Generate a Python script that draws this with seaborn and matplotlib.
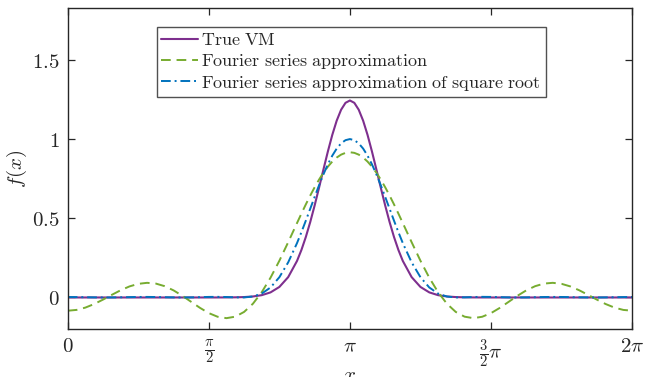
import numpy as np
import pandas as pd
import matplotlib
matplotlib.use("Agg")
import matplotlib.pyplot as plt
import seaborn as sns

# sample positions in units of pi/64 (finer sampling around the peak)
x_units = list(range(0, 52, 2)) + list(range(52, 77)) + list(range(78, 129, 2))
x_vals = np.array(x_units) * np.pi / 64

true_vm = [0.0, 0.0, 0.0, 0.0, 0.0, 0.0, 0.0, 0.0, 0.0, 0.0, 0.0, 0.0, 0.0, 0.0, 0.0, 0.0, 0.0,
           0.0001, 0.0004, 0.0010, 0.0026, 0.0063, 0.0146, 0.0322, 0.0665, 0.1286,
           0.2308, 0.3001, 0.3823, 0.4766, 0.5816, 0.6939, 0.8094, 0.9226, 1.0274, 1.1173,
           1.1864, 1.2301, 1.245, 1.2301, 1.1864, 1.1173, 1.0274, 0.9226, 0.8094, 0.6939,
           0.5816, 0.4766, 0.3823, 0.3001, 0.2308,
           0.1286, 0.0665, 0.0322, 0.0146, 0.0063, 0.0026, 0.0010, 0.0004, 0.0001,
           0.0, 0.0, 0.0, 0.0, 0.0, 0.0, 0.0, 0.0, 0.0, 0.0, 0.0, 0.0, 0.0, 0.0, 0.0, 0.0, 0.0]

fourier = [-0.0837, -0.0786, -0.0640, -0.0414, -0.0135, 0.0167, 0.0456, 0.0698, 0.0862,
           0.0926, 0.0877, 0.0713, 0.0449, 0.0107, -0.0276, -0.0657, -0.0988, -0.1219,
           -0.1307, -0.1213, -0.0913, -0.0396, 0.0332, 0.1251, 0.2321, 0.3492,
           0.4701, 0.5300, 0.5882, 0.6440, 0.6966, 0.7450, 0.7886, 0.8268, 0.8588, 0.8843,
           0.9028, 0.9140, 0.9178, 0.9140, 0.9028, 0.8843, 0.8588, 0.8268, 0.7886, 0.7450,
           0.6966, 0.6440, 0.5882, 0.5300, 0.4701,
           0.3492, 0.2321, 0.1251, 0.0332, -0.0396, -0.0913, -0.1213, -0.1307, -0.1219,
           -0.0988, -0.0657, -0.0276, 0.0107, 0.0449, 0.0713, 0.0877, 0.0926, 0.0862,
           0.0698, 0.0456, 0.0167, -0.0135, -0.0414, -0.0640, -0.0786, -0.0837]

fourier_sqrt = [0.0029, 0.0025, 0.0016, 0.0006, 0.0000, 0.0002, 0.0010, 0.0022, 0.0032,
                0.0035, 0.0029, 0.0017, 0.0005, 0.0000, 0.0006, 0.0020, 0.0035, 0.0040,
                0.0029, 0.0008, 0.0002, 0.0060, 0.0246, 0.0632, 0.1280, 0.2219,
                0.3435, 0.4126, 0.4855, 0.5606, 0.6358, 0.7092, 0.7784, 0.8415, 0.8962,
                0.9409, 0.9739, 0.9942, 1.0011, 0.9942, 0.9739, 0.9409, 0.8962, 0.8415,
                0.7784, 0.7092, 0.6358, 0.5606, 0.4855, 0.4126, 0.3435,
                0.2219, 0.1280, 0.0632, 0.0246, 0.0060, 0.0002, 0.0008, 0.0029, 0.0040,
                0.0035, 0.0020, 0.0006, 0.0000, 0.0005, 0.0017, 0.0029, 0.0035, 0.0032,
                0.0022, 0.0010, 0.0002, 0.0000, 0.0006, 0.0016, 0.0025, 0.0029]

labels = ["True VM", "Fourier series approximation",
          "Fourier series approximation of square root"]
x_ticks = [0, np.pi / 2, np.pi, 3 * np.pi / 2, 2 * np.pi]
x_tick_labels = [r"$0$", r"$\frac{\pi}{2}$", r"$\pi$", r"$\frac{3}{2}\pi$", r"$2\pi$"]
y_ticks = [0, 0.5, 1, 1.5]
y_tick_labels = [r"$0$", r"$0.5$", r"$1$", r"$1.5$"]

sns.set_style("ticks")
plt.rcParams["mathtext.fontset"] = "cm"
plt.rcParams["font.family"] = ["DejaVu Serif"]

dark = "#262626"
fig = plt.figure(figsize=(6.45, 3.77), dpi=100)
ax = fig.add_axes([0.105, 0.127, 0.875, 0.852])

df = pd.DataFrame({"x": x_vals, "vm": true_vm, "fs": fourier, "fsq": fourier_sqrt})


def tex(s):
    return r"$\mathrm{" + s.replace(" ", r"\ ") + "}$"


sns.lineplot(data=df, x="x", y="vm", ax=ax, color="#7E2F8E", lw=1.5,
             label=tex(labels[0]))
sns.lineplot(data=df, x="x", y="fs", ax=ax, color="#77AC30", lw=1.4,
             linestyle=(0, (5, 3)), label=tex(labels[1]))
sns.lineplot(data=df, x="x", y="fsq", ax=ax, color="#0072BD", lw=1.4,
             linestyle=(0, (5, 2, 1, 2)), label=tex(labels[2]))

ax.set_xlim(0, 2 * np.pi)
ax.set_ylim(-0.2, 1.83)
ax.set_xticks(x_ticks)
ax.set_xticklabels(x_tick_labels)
ax.set_yticks(y_ticks)
ax.set_yticklabels(y_tick_labels)
ax.tick_params(direction="in", top=True, right=True, length=5, width=0.9,
               colors=dark, labelsize=15, pad=6)
for s in ax.spines.values():
    s.set_visible(True)
    s.set_color(dark)
    s.set_linewidth(1.0)
ax.set_xlabel(r"$x$", fontsize=15, color=dark, labelpad=-3)
ax.set_ylabel(r"$f(x)$", fontsize=15, color=dark, labelpad=2)

leg = ax.legend(loc="upper left", bbox_to_anchor=(0.158, 0.941), borderaxespad=0,
                fontsize=13, frameon=True, fancybox=False, handlelength=2.0,
                handletextpad=0.2, labelspacing=0.15, borderpad=0.25)
leg.get_frame().set_edgecolor(dark)
leg.get_frame().set_linewidth(1.0)

fig.savefig("out.png", dpi=100)
